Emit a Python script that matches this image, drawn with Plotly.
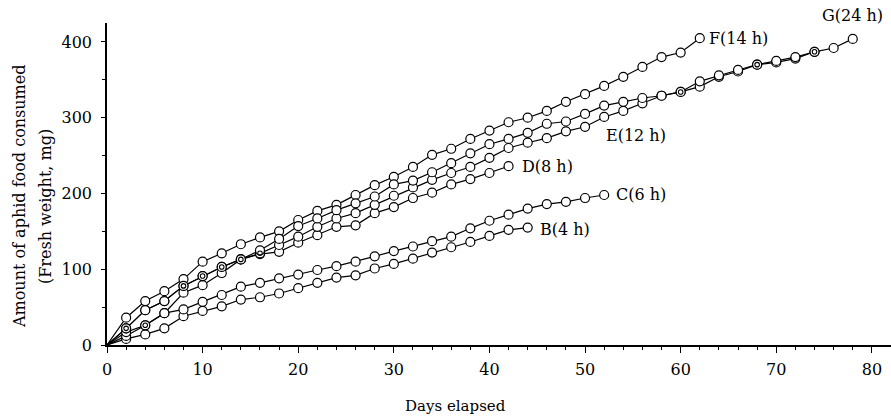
import plotly.graph_objects as go

# Sampling days (every 2 days)
days = [0, 2, 4, 6, 8, 10, 12, 14, 16, 18, 20, 22, 24, 26, 28, 30, 32, 34, 36, 38,
        40, 42, 44, 46, 48, 50, 52, 54, 56, 58, 60, 62, 64, 66, 68, 70, 72, 74, 76, 78]

# Cumulative aphid food consumed (fresh weight, mg)
B_4h = [0, 8, 14, 22, 38, 45, 51, 60, 63, 68, 75, 82, 89, 92, 101, 107, 114, 122, 129,
        136, 144, 152, 155]
C_6h = [0, 12, 26, 42, 47, 57, 66, 77, 82, 88, 93, 99, 104, 110, 117, 124, 130, 137, 143,
        154, 164, 172, 180, 186, 189, 194, 198]
D_8h = [0, 17, 26, 42, 69, 79, 95, 113, 120, 123, 135, 145, 156, 158, 174, 182, 194, 201,
        212, 219, 227, 236]
E_12h = [0, 22, 46, 58, 78, 91, 103, 113, 121, 132, 143, 156, 167, 174, 185, 197, 208, 218,
         227, 235, 247, 260, 267, 273, 282, 288, 301, 309, 319, 329, 334, 341, 354, 361,
         370, 373, 378, 387]
F_14h = [0, 36, 58, 71, 87, 110, 121, 133, 142, 150, 165, 177, 185, 198, 211, 222, 235, 251,
         259, 272, 283, 294, 300, 309, 321, 331, 342, 354, 367, 380, 386, 405]
G_24h = [0, 22, 46, 58, 78, 91, 103, 113, 125, 140, 157, 167, 178, 187, 196, 212, 217, 228,
         240, 253, 265, 272, 280, 292, 295, 305, 316, 321, 326, 329, 334, 348, 356, 363,
         370, 375, 380, 387, 392, 404]

# Points where two curves coincide (drawn as double circles)
overlap_days = [2, 4, 8, 10, 12, 14, 16, 60, 68, 74]
overlap_vals = [22, 26, 78, 91, 103, 113, 121, 334, 370, 387]

series_names = ["B(4 h)", "C(6 h)", "D(8 h)", "E(12 h)", "F(14 h)", "G(24 h)"]
series_vals = [B_4h, C_6h, D_8h, E_12h, F_14h, G_24h]

x_ticks = [0, 10, 20, 30, 40, 50, 60, 70, 80]
y_ticks = [0, 100, 200, 300, 400]

FONT = "DejaVu Serif"

fig = go.Figure()

# lines first
for name, vals in zip(series_names, series_vals):
    fig.add_trace(go.Scatter(
        x=days[:len(vals)], y=vals, mode="lines",
        line=dict(color="black", width=1.2),
        showlegend=False, hoverinfo="skip"))

# markers on top (skip origin)
for name, vals in zip(series_names, series_vals):
    fig.add_trace(go.Scatter(
        x=days[1:len(vals)], y=vals[1:], mode="markers",
        marker=dict(symbol="circle", size=9, color="white",
                    line=dict(color="black", width=1.2)),
        showlegend=False, hoverinfo="skip"))

fig.add_trace(go.Scatter(
    x=overlap_days, y=overlap_vals, mode="markers",
    marker=dict(symbol="circle-open", size=4.5, color="black",
                line=dict(color="black", width=1.1)),
    showlegend=False, hoverinfo="skip"))

annotations = []
# end labels
label_cfg = {
    "B(4 h)": dict(xanchor="left", xshift=10, yshift=-2),
    "C(6 h)": dict(xanchor="left", xshift=10, yshift=0),
    "D(8 h)": dict(xanchor="left", xshift=11, yshift=0),
    "F(14 h)": dict(xanchor="left", xshift=7, yshift=0),
    "G(24 h)": dict(xanchor="center", xshift=0, yshift=23),
}
for name, vals in zip(series_names, series_vals):
    if name in label_cfg:
        cfg = label_cfg[name]
        annotations.append(dict(
            x=days[len(vals) - 1], y=vals[-1], xref="x", yref="y",
            text=name, showarrow=False, yanchor="middle",
            font=dict(family=FONT, size=16, color="black"), **cfg))
annotations.append(dict(
    x=52, y=276, xref="x", yref="y", text="E(12 h)", showarrow=False,
    xanchor="left", yanchor="middle",
    font=dict(family=FONT, size=16, color="black")))

# axis titles
annotations.append(dict(
    x=455, y=406, text="Days elapsed", showarrow=False,
    font=dict(family=FONT, size=15, color="black")))
annotations.append(dict(
    x=19, y=197, text="Amount of aphid food consumed", textangle=-90, showarrow=False,
    font=dict(family=FONT, size=16, color="black")))
annotations.append(dict(
    x=45, y=207, text="(Fresh weight, mg)", textangle=-90, showarrow=False,
    font=dict(family=FONT, size=16, color="black")))

W, H = 891, 419
ML, MR, MT, MB = 107, 0, 23, 74
pw, ph = W - ML - MR, H - MT - MB
# convert pixel-based title positions to paper coordinates
for a in annotations[-3:]:
    a["xref"] = "paper"
    a["yref"] = "paper"
    a["x"] = (a["x"] - ML) / pw
    a["y"] = 1 - (a["y"] - MT) / ph
    a["xanchor"] = "center"
    a["yanchor"] = "middle"

fig.update_layout(
    width=W, height=H,
    margin=dict(l=ML, r=MR, t=MT, b=MB),
    paper_bgcolor="white", plot_bgcolor="white",
    annotations=annotations,
    xaxis=dict(
        range=[0, 82], tickvals=x_ticks, ticktext=[str(v) for v in x_ticks],
        showgrid=False, zeroline=False, showline=True, linecolor="black", linewidth=1.6,
        ticks="outside", ticklen=6, tickwidth=1.2, tickcolor="black",
        minor=dict(dtick=2, tick0=0, ticks="outside", ticklen=3, tickwidth=1,
                   tickcolor="black", showgrid=False),
        tickfont=dict(family=FONT, size=16, color="black"),
        ticklabelstandoff=3,
    ),
    yaxis=dict(
        range=[0, 425], tickvals=y_ticks, ticktext=[str(v) for v in y_ticks],
        showgrid=False, zeroline=False, showline=True, linecolor="black", linewidth=1.6,
        ticks="outside", ticklen=4, tickwidth=1.2, tickcolor="black",
        minor=dict(dtick=50, tick0=0, ticks="outside", ticklen=3, tickwidth=1,
                   tickcolor="black", showgrid=False),
        tickfont=dict(family=FONT, size=16, color="black"),
        ticklabelstandoff=6,
    ),
)

fig.write_html("out.html")
